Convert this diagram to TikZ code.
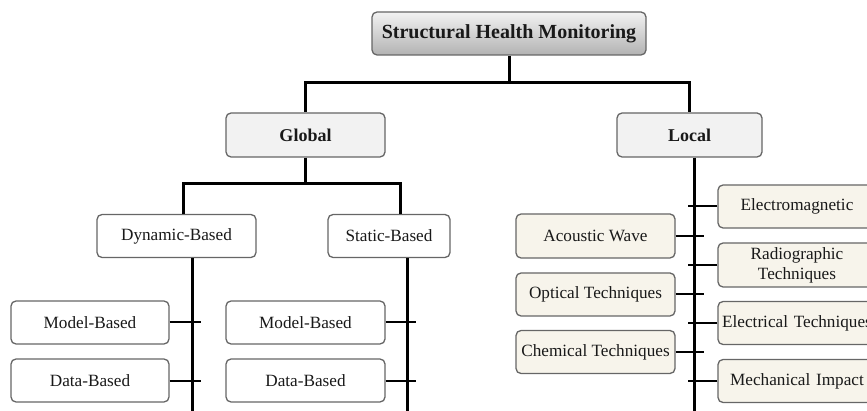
\documentclass[tikz,border=0pt]{standalone}
\usepackage{fontspec}
\setmainfont{Liberation Serif}
\begin{document}
\begin{tikzpicture}[x=1pt,y=-1pt,
  base/.style={draw=black!60, line width=1.3pt, rounded corners=5pt, inner sep=1pt, align=center, text=black!90},
  topbox/.style={base, top color=black!5, bottom color=black!30, minimum width=274pt, minimum height=43pt, font=\fontsize{20}{24}\selectfont\bfseries},
  midbox/.style={base, fill=black!5, minimum height=44pt, font=\fontsize{18}{22}\selectfont\bfseries},
  whitebox/.style={base, fill=white, minimum height=43pt, font=\fontsize{17.2}{20}\selectfont},
  beigebox/.style={base, fill={rgb,255:red,247;green,244;blue,235}, minimum width=159pt, minimum height=43pt, font=\fontsize{17.2}{20}\selectfont},
  trunk/.style={line width=3pt},
  stub/.style={line width=2pt}
]
\useasboundingbox (0,0) rectangle (867,411);
\clip (0,0) rectangle (867,411);

\node[topbox] (shm) at (509,33.5) {Structural Health Monitoring};
\node[midbox, minimum width=159pt] (global) at (305.5,135) {Global};
\node[midbox, minimum width=145pt] (local) at (689.5,135) {Local};

\node[whitebox, minimum width=159pt] (dyn) at (176.5,236) {Dynamic-Based};
\node[whitebox, minimum width=122pt] (stat) at (389,236) {Static-Based};

\node[whitebox, minimum width=158pt] (modelL) at (90,322.5) {Model-Based};
\node[whitebox, minimum width=158pt] (dataL) at (90,380.5) {Data-Based};
\node[whitebox, minimum width=159pt] (modelM) at (305.5,322.5) {Model-Based};
\node[whitebox, minimum width=159pt] (dataM) at (305.5,380.5) {Data-Based};

\node[beigebox, minimum height=44pt] (acou) at (595.5,236) {Acoustic Wave};
\node[beigebox] (opt) at (595.5,294.5) {Optical Techniques};
\node[beigebox] (chem) at (595.5,352) {Chemical Techniques};

\node[beigebox, minimum width=158pt, text width=154pt] (emag) at (797,206.5) {Electromagnetic};
\node[beigebox, minimum width=158pt, text width=154pt, minimum height=44pt] (radio) at (797,265) {Radiographic\\Techniques};
\node[beigebox, minimum width=158pt, text width=154pt] (elec) at (797,323) {Electrical Techniques};
\node[beigebox, minimum width=158pt, text width=154pt] (mech) at (797,381) {Mechanical Impact};

% coordinates
\coordinate (j1) at (509,83);
\coordinate (j2) at (305,184);
\coordinate (dtop) at (183,184);
\coordinate (stop) at (400,184);
\coordinate (dend) at (192,411);
\coordinate (send) at (407,411);
\coordinate (lend) at (694,411);

% top level
\draw[trunk] (shm.south) -- (j1);
\draw[trunk] (j1) -| (global.north);
\draw[trunk] (j1) -| (local.north);

% global
\draw[trunk] (global.south -| j2) -- (j2);
\draw[trunk] (j2) -- (dtop) -- (dtop |- dyn.north);
\draw[trunk] (j2) -- (stop) -- (stop |- stat.north);
\draw[trunk] (dyn.south -| dend) -- (dend);
\draw[trunk] (stat.south -| send) -- (send);

\draw[stub] (modelL.east) -- ++(31,0);
\draw[stub] (dataL.east) -- ++(31,0);
\draw[stub] (modelM.east) -- ++(30,0);
\draw[stub] (dataM.east) -- ++(30,0);

% local
\draw[trunk] (local.south -| lend) -- (lend);
\draw[stub] (acou.east) -- ++(28,0);
\draw[stub] (opt.east) -- ++(28,0);
\draw[stub] (chem.east) -- ++(28,0);
\draw[stub] (emag.west) -- ++(-29,0);
\draw[stub] (radio.west) -- ++(-29,0);
\draw[stub] (elec.west) -- ++(-29,0);
\draw[stub] (mech.west) -- ++(-29,0);
\end{tikzpicture}
\end{document}
